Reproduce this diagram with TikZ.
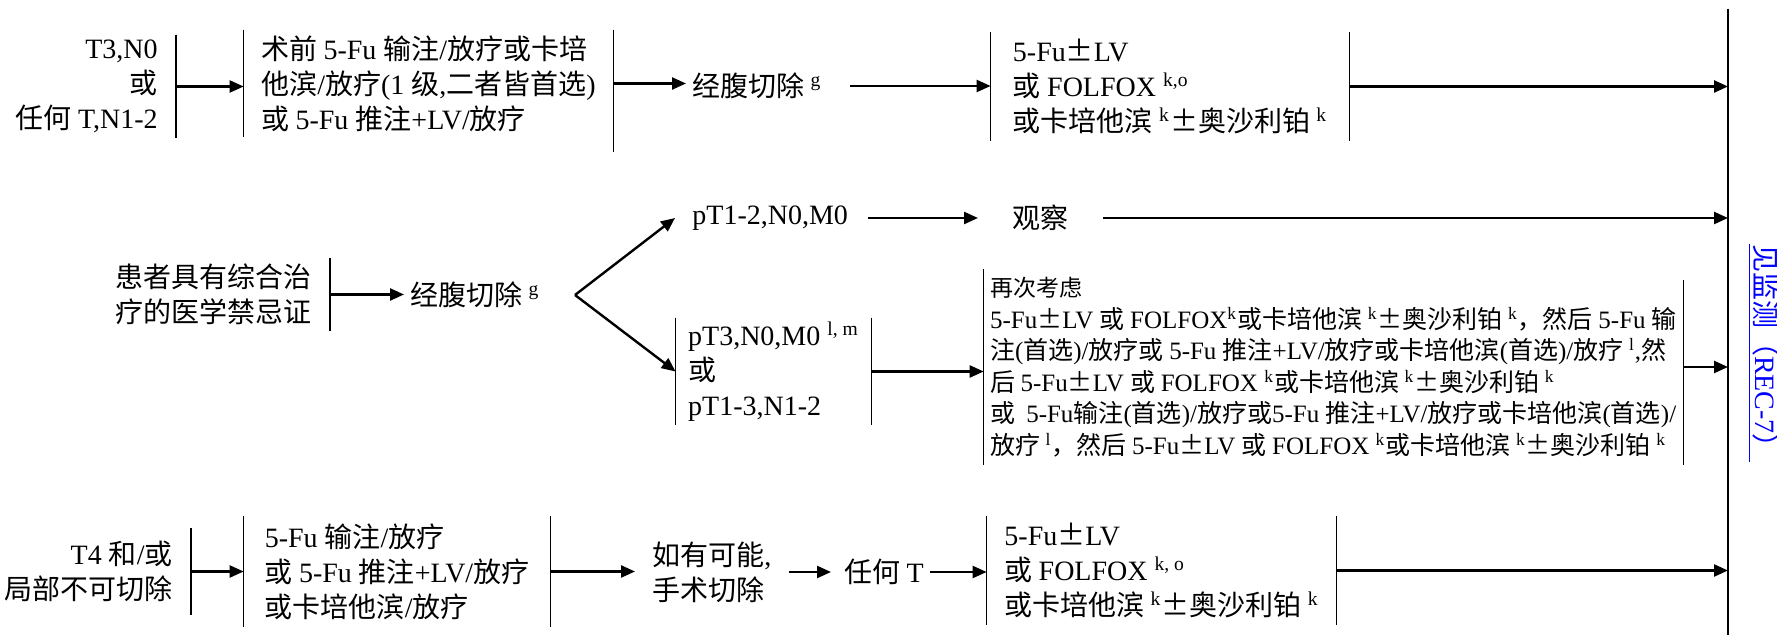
\documentclass[tikz,border=0pt]{standalone}
\usepackage{fontspec}
\setmainfont{Liberation Serif}
\newfontfamily\cjk{Noto Sans CJK SC}
\XeTeXinterchartokenstate=1
\newXeTeXintercharclass\zhcls
\newcount\zhcnt
\zhcnt="4E00
\loop\XeTeXcharclass\zhcnt=\zhcls\advance\zhcnt by 1 \ifnum\zhcnt<"A000 \repeat
\zhcnt="FF00
\loop\XeTeXcharclass\zhcnt=\zhcls\advance\zhcnt by 1 \ifnum\zhcnt<"FFF0 \repeat
\XeTeXcharclass"00B1=\zhcls
\XeTeXinterchartoks 0 \zhcls = {\cjk}
\XeTeXinterchartoks 4095 \zhcls = {\cjk}
\XeTeXinterchartoks \zhcls 0 = {\rmfamily}
\XeTeXinterchartoks 4095 0 = {\rmfamily}
\usetikzlibrary{arrows.meta,calc}

\begin{document}
\begin{tikzpicture}[x=0.5pt,y=-0.5pt,
    txt/.style={font=\fontsize{14}{17.5}\selectfont,inner ysep=0pt,inner xsep=3pt},
    box/.style 2 args={txt,align=left,minimum width=#1,minimum height=#2},
    lab/.style={txt,align=right,anchor=east,inner xsep=9pt,minimum height=#1},
    bar/.style={line width=0.8pt},
    arr/.style={line width=1.2pt,-{Triangle[length=7pt,width=6pt]}}]
    \useasboundingbox (0,0) rectangle (1777,635);
    \coordinate (mtop) at (1728,9);
    \coordinate (mbot) at (1728,635);
    \draw[bar] (mtop) -- (mbot);
    \node[txt,rotate=-90,text=blue] (see) at (1764,353) {\underline{见监测（REC-7）}};

    \node[lab=51.5pt] (t3) at (176,86.5) {T3,N0\\或\\任何 T,N1-2};
    \node[box={184.5pt}{53.5pt}] (pre) at (428.5,83.5) {术前 5-Fu 输注/放疗或卡培\\他滨/放疗(1 级,二者皆首选)\\或 5-Fu 推注+LV/放疗};
    \node[txt,anchor=west] (cut1) at (686,86) {经腹切除 \textsuperscript{g}};
    \node[box={179pt}{54.5pt}] (adj1) at (1170,86.5) {5-Fu±LV\\或 FOLFOX \textsuperscript{k,o}\\或卡培他滨 \textsuperscript{k}±奥沙利铂 \textsuperscript{k}};
    \draw[bar] (t3.north east) -- (t3.south east);
    \draw[bar] (pre.north west) -- (pre.south west) (pre.north east) -- ([yshift=-7.5pt]pre.south east);
    \draw[bar] (adj1.north west) -- (adj1.south west) (adj1.north east) -- (adj1.south east);
    \draw[arr] (t3.east) -- (t3.east -| pre.west);
    \draw[arr] (pre.east) -- (pre.east -| cut1.west);
    \draw[arr,shorten <=11pt] (cut1.east) -- (cut1.east -| adj1.west);
    \draw[arr] (adj1.east) -- (adj1.east -| mtop);

    \node[lab=36.5pt] (pat) at (330,294.5) {患者具有综合治\\疗的医学禁忌证};
    \node[txt,anchor=west] (cut2) at (404,295) {经腹切除 \textsuperscript{g}};
    \coordinate (fork) at (575,295);
    \node[txt,anchor=west] (pt12) at (686,218) {pT1-2,N0,M0};
    \node[txt,anchor=west] (obs) at (1006,218) {观察};
    \node[box={97.5pt}{53.5pt}] (pt3) at (773.5,371.5) {pT3,N0,M0 \textsuperscript{l, m}\\或\\pT1-3,N1-2};
    \node[box={341.5pt}{97.5pt},font=\fontsize{12.5}{15.75}\selectfont] (again) at (1333.5,367) {{\fontsize{11.5}{15.75}\selectfont 再次考虑}\\
        5-Fu±LV 或 FOLFOX\textsuperscript{k}或卡培他滨 \textsuperscript{k}±奥沙利铂 \textsuperscript{k}，然后 5-Fu 输\\
        注(首选)/放疗或 5-Fu 推注+LV/放疗或卡培他滨(首选)/放疗 \textsuperscript{l},然\\
        后 5-Fu±LV 或 FOLFOX \textsuperscript{k}或卡培他滨 \textsuperscript{k}±奥沙利铂 \textsuperscript{k}\\
        或\ \ 5-Fu输注(首选)/放疗或5-Fu 推注+LV/放疗或卡培他滨(首选)/\\
        放疗 \textsuperscript{l}，然后 5-Fu±LV 或 FOLFOX \textsuperscript{k}或卡培他滨 \textsuperscript{k}±奥沙利铂 \textsuperscript{k}};
    \draw[bar] (pat.north east) -- (pat.south east);
    \draw[bar] (pt3.north west) -- (pt3.south west) (pt3.north east) -- (pt3.south east);
    \draw[bar] (again.north west) -- (again.south west) ([yshift=-5.5pt]again.north east) -- (again.south east);
    \draw[arr] (pat.east) -- (pat.east -| cut2.west);
    \draw[arr] (fork) -- ([xshift=-5.5pt]pt12.west);
    \draw[arr] (fork) -- (pt3.west);
    \draw[arr,shorten <=7pt,shorten >=14pt] (pt12) -- (obs);
    \draw[arr,shorten <=14pt] (obs.east) -- (obs.east -| mtop);
    \draw[arr] (pt3.east) -- (pt3.east -| again.west);
    \draw[arr] (again.east) -- (again.east -| mtop);

    \node[lab=43.5pt] (t4) at (191,571.5) {T4 和/或\\局部不可切除};
    \node[box={153pt}{55.5pt}] (neo) at (397,571.5) {5-Fu 输注/放疗\\或 5-Fu 推注+LV/放疗\\或卡培他滨/放疗};
    \node[txt,anchor=west,align=left] (may) at (646,572) {如有可能,\\手术切除};
    \node[txt,anchor=west] (anyt) at (838,572) {任何 T};
    \node[box={174.5pt}{54.5pt}] (adj3) at (1161.5,570.5) {5-Fu±LV\\或 FOLFOX \textsuperscript{k, o}\\或卡培他滨 \textsuperscript{k}±奥沙利铂 \textsuperscript{k}};
    \draw[bar] (t4.north east) -- (t4.south east);
    \draw[bar] (neo.north west) -- (neo.south west) (neo.north east) -- (neo.south east);
    \draw[bar] (adj3.north west) -- (adj3.south west) (adj3.north east) -- (adj3.south east);
    \draw[arr] (t4.east) -- (t4.east -| neo.west);
    \draw[arr,shorten >=5.5pt] (neo.east) -- (neo.east -| may.west);
    \draw[arr,shorten <=5.5pt,shorten >=3.5pt] (may.east) -- (may.east -| anyt.west);
    \draw[arr] (anyt.east) -- (anyt.east -| adj3.west);
    \draw[arr] (adj3.east) -- (adj3.east -| mtop);
\end{tikzpicture}
\end{document}
